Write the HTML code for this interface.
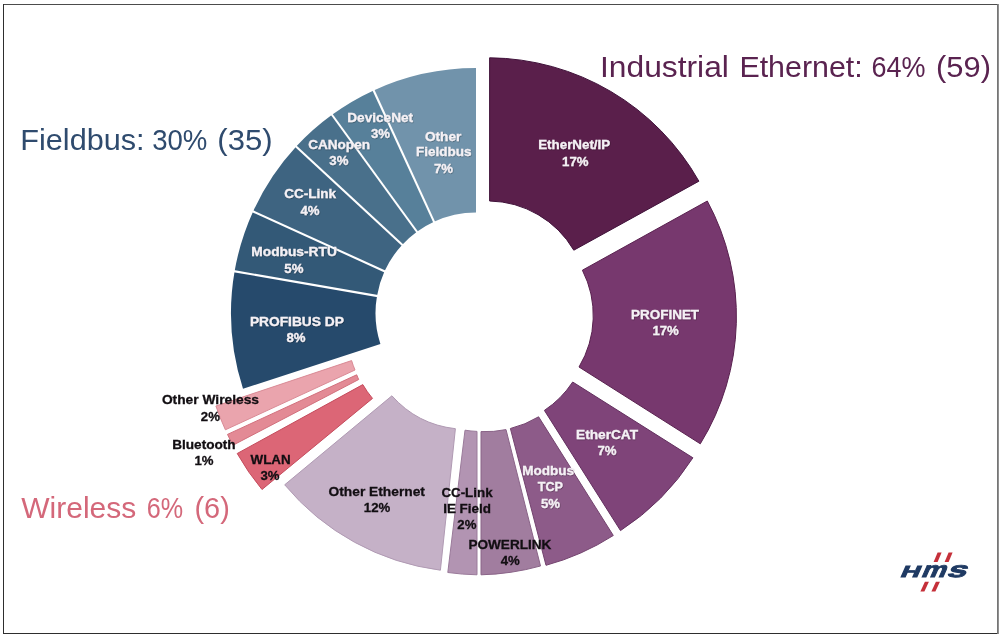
<!DOCTYPE html>
<html><head><meta charset="utf-8"><title>Industrial network market shares</title>
<style>
html,body{margin:0;padding:0;background:#fff;}
body{width:1001px;height:639px;overflow:hidden;}
svg{display:block;}
text{font-family:"Liberation Sans",sans-serif;}
.lw,.lk{font-size:13.2px;font-weight:bold;}
.lw{fill:#f5f1f5;stroke:#f5f1f5;stroke-width:0.3px;filter:url(#sh);}
.lk{fill:#120e12;stroke:#120e12;stroke-width:0.3px;}
.tt{font-size:29.7px;}
</style></head><body>
<svg width="1001" height="639" viewBox="0 0 1001 639">
<defs><filter id="sh" x="-10%" y="-30%" width="120%" height="160%"><feDropShadow dx="0.4" dy="0.6" stdDeviation="0.7" flood-color="#000" flood-opacity="0.45"/></filter></defs>
<rect x="0" y="0" width="1001" height="639" fill="#fff"/>
<rect x="3" y="4" width="995" height="1" fill="#4c4c4c"/>
<rect x="3" y="4" width="1" height="630" fill="#2e2e2e"/>
<rect x="3" y="633" width="995" height="1" fill="#2e2e2e"/>
<rect x="997" y="4" width="1.8" height="630" fill="#757575"/>
<path d="M489.6 57.8A243 243 0 0 1 698.9 181.2L573.8 250.2A100 100 0 0 0 489.6 201.0Z" fill="#5a1f4b" stroke="#40123a" stroke-width="1"/>
<path d="M707.3 201.0A243 243 0 0 1 700.3 443.8L579.0 367.0A100 100 0 0 0 582.4 270.2Z" fill="#77386e" stroke="#59214f" stroke-width="1"/>
<path d="M692.9 457.8A243 243 0 0 1 620.5 530.6L544.4 410.4A100 100 0 0 0 572.7 382.0Z" fill="#7f4479" stroke="#63305f" stroke-width="1"/>
<path d="M613.3 535.5A243 243 0 0 1 546.0 565.3L510.4 428.5A100 100 0 0 0 538.6 416.8Z" fill="#8d5b89" stroke="#74446f" stroke-width="1"/>
<path d="M540.5 566.0A243 243 0 0 1 481.0 574.8L481.0 431.6A100 100 0 0 0 506.0 429.6Z" fill="#a17d9f" stroke="#8a6488" stroke-width="1"/>
<path d="M477.0 574.8A243 243 0 0 1 447.8 572.5L465.0 430.2A100 100 0 0 0 477.0 431.4Z" fill="#b294b2" stroke="#9a7a9a" stroke-width="1"/>
<path d="M440.4 570.2A243 243 0 0 1 284.7 484.8L391.9 395.8A100 100 0 0 0 455.4 428.7Z" fill="#c5b1c7" stroke="#b09ab3" stroke-width="1"/>
<path d="M262.0 489.5A243 243 0 0 1 237.2 453.5L362.8 384.6A100 100 0 0 0 372.5 398.4Z" fill="#dc6676" stroke="#c54c5d" stroke-width="1"/>
<path d="M233.0 445.2A243 243 0 0 1 227.5 434.4L356.7 374.8A100 100 0 0 0 358.7 379.5Z" fill="#e38a95" stroke="#d2707d" stroke-width="1"/>
<path d="M225.4 429.8A243 243 0 0 1 215.9 406.0L351.6 360.6A100 100 0 0 0 355.0 370.0Z" fill="#eaa4ad" stroke="#d98a95" stroke-width="1"/>
<path d="M243.0 388.7A245 245 0 0 1 234.6 271.3L377.0 295.9A100.5 100.5 0 0 0 380.4 344.1Z" fill="#264a6c"/>
<path d="M234.6 271.3A245 245 0 0 1 253.1 211.4L384.5 271.3A100.5 100.5 0 0 0 377.0 295.9Z" fill="#335977"/>
<path d="M253.1 211.4A245 245 0 0 1 296.2 146.5L402.3 244.7A100.5 100.5 0 0 0 384.5 271.3Z" fill="#3e6481"/>
<path d="M296.2 146.5A245 245 0 0 1 332.0 114.8L416.9 231.7A100.5 100.5 0 0 0 402.3 244.7Z" fill="#49708b"/>
<path d="M332.0 114.8A245 245 0 0 1 373.6 90.4L434.0 221.7A100.5 100.5 0 0 0 416.9 231.7Z" fill="#57809a"/>
<path d="M373.6 90.4A245 245 0 0 1 476.0 68.0L476.0 212.5A100.5 100.5 0 0 0 434.0 221.7Z" fill="#7193ab"/>
<line x1="378.0" y1="296.1" x2="233.6" y2="271.1" stroke="#fff" stroke-width="2.1"/>
<line x1="385.5" y1="271.7" x2="252.1" y2="211.0" stroke="#fff" stroke-width="2.1"/>
<line x1="403.0" y1="245.4" x2="295.5" y2="145.9" stroke="#fff" stroke-width="2.1"/>
<line x1="417.5" y1="232.5" x2="331.4" y2="114.0" stroke="#fff" stroke-width="2.1"/>
<line x1="434.4" y1="222.6" x2="373.2" y2="89.5" stroke="#fff" stroke-width="2.1"/>
<text class="lw" x="538.2" y="149.2" textLength="72.0" lengthAdjust="spacingAndGlyphs">EtherNet/IP</text>
<text class="lw" x="575.3" y="165.6" text-anchor="middle">17%</text>
<text class="lw" x="631.0" y="318.6" textLength="68.1" lengthAdjust="spacingAndGlyphs">PROFINET</text>
<text class="lw" x="665.6" y="335.0" text-anchor="middle">17%</text>
<text class="lw" x="576.0" y="439.0" textLength="62.1" lengthAdjust="spacingAndGlyphs">EtherCAT</text>
<text class="lw" x="607.0" y="454.8" text-anchor="middle">7%</text>
<text class="lw" x="522.2" y="475.4" textLength="51.9" lengthAdjust="spacingAndGlyphs">Modbus</text>
<text class="lw" x="537.8" y="491.3" textLength="25.2" lengthAdjust="spacingAndGlyphs">TCP</text>
<text class="lw" x="550.5" y="507.5" text-anchor="middle">5%</text>
<text class="lk" x="468.4" y="549.0" textLength="83.0" lengthAdjust="spacingAndGlyphs">POWERLINK</text>
<text class="lk" x="510.2" y="564.9" text-anchor="middle">4%</text>
<text class="lk" x="441.4" y="497.2" textLength="51.2" lengthAdjust="spacingAndGlyphs">CC-Link</text>
<text class="lk" x="443.2" y="513.1" textLength="47.8" lengthAdjust="spacingAndGlyphs">IE Field</text>
<text class="lk" x="466.9" y="529.1" text-anchor="middle">2%</text>
<text class="lk" x="328.6" y="496.4" textLength="96.3" lengthAdjust="spacingAndGlyphs">Other Ethernet</text>
<text class="lk" x="377.0" y="512.3" text-anchor="middle">12%</text>
<text class="lk" x="250.6" y="464.0" textLength="40.1" lengthAdjust="spacingAndGlyphs">WLAN</text>
<text class="lk" x="270.0" y="480.2" text-anchor="middle">3%</text>
<text class="lk" x="172.2" y="449.2" textLength="63.5" lengthAdjust="spacingAndGlyphs">Bluetooth</text>
<text class="lk" x="204.0" y="465.3" text-anchor="middle">1%</text>
<text class="lk" x="161.9" y="404.1" textLength="97.1" lengthAdjust="spacingAndGlyphs">Other Wireless</text>
<text class="lk" x="210.4" y="420.5" text-anchor="middle">2%</text>
<text class="lw" x="249.9" y="325.5" textLength="94.0" lengthAdjust="spacingAndGlyphs">PROFIBUS DP</text>
<text class="lw" x="296.0" y="342.0" text-anchor="middle">8%</text>
<text class="lw" x="251.3" y="256.4" textLength="85.6" lengthAdjust="spacingAndGlyphs">Modbus-RTU</text>
<text class="lw" x="293.9" y="272.7" text-anchor="middle">5%</text>
<text class="lw" x="284.2" y="198.2" textLength="51.8" lengthAdjust="spacingAndGlyphs">CC-Link</text>
<text class="lw" x="310.0" y="214.7" text-anchor="middle">4%</text>
<text class="lw" x="308.2" y="148.5" textLength="61.8" lengthAdjust="spacingAndGlyphs">CANopen</text>
<text class="lw" x="338.9" y="164.5" text-anchor="middle">3%</text>
<text class="lw" x="347.3" y="122.0" textLength="65.8" lengthAdjust="spacingAndGlyphs">DeviceNet</text>
<text class="lw" x="380.5" y="138.0" text-anchor="middle">3%</text>
<text class="lw" x="424.9" y="140.5" textLength="36.4" lengthAdjust="spacingAndGlyphs">Other</text>
<text class="lw" x="416.1" y="156.0" textLength="55.4" lengthAdjust="spacingAndGlyphs">Fieldbus</text>
<text class="lw" x="443.5" y="172.5" text-anchor="middle">7%</text>
<text class="tt" x="600.0" y="77.4" textLength="128.9" lengthAdjust="spacingAndGlyphs" fill="#5a2350">Industrial</text>
<text class="tt" x="739.4" y="77.4" textLength="123.3" lengthAdjust="spacingAndGlyphs" fill="#5a2350">Ethernet:</text>
<text class="tt" x="871.5" y="77.4" textLength="54.0" lengthAdjust="spacingAndGlyphs" fill="#5a2350">64%</text>
<text class="tt" x="936.1" y="77.4" textLength="54.8" lengthAdjust="spacingAndGlyphs" fill="#5a2350">(59)</text>
<text class="tt" x="20.3" y="149.5" textLength="124.3" lengthAdjust="spacingAndGlyphs" fill="#2f4b6e">Fieldbus:</text>
<text class="tt" x="152.2" y="149.5" textLength="55.2" lengthAdjust="spacingAndGlyphs" fill="#2f4b6e">30%</text>
<text class="tt" x="217.3" y="149.5" textLength="55.2" lengthAdjust="spacingAndGlyphs" fill="#2f4b6e">(35)</text>
<text class="tt" x="21.2" y="517.9" textLength="115.2" lengthAdjust="spacingAndGlyphs" fill="#d4687a">Wireless</text>
<text class="tt" x="146.7" y="517.9" textLength="36.4" lengthAdjust="spacingAndGlyphs" fill="#d4687a">6%</text>
<text class="tt" x="194.5" y="517.9" textLength="35.3" lengthAdjust="spacingAndGlyphs" fill="#d4687a">(6)</text>
<g><polygon points="937.6,552.6 941.6,552.6 937.6,562 933.6,562" fill="#c5303a"/><polygon points="948.6,552.6 952.6,552.6 948.6,562 944.6,562" fill="#c5303a"/><polygon points="924.9,581.8 928.9,581.8 924.4,591.6 920.4,591.6" fill="#c5303a"/><polygon points="935.9,581.8 939.9,581.8 935.4,591.6 931.4,591.6" fill="#c5303a"/><text transform="translate(899.6,576.8) skewX(-24) scale(1.645,1)" font-size="16" font-weight="bold" fill="#1f3a63" stroke="#1f3a63" stroke-width="0.9">H</text><text transform="translate(920.3,576.8) skewX(-24) scale(1.248,1)" font-size="22" font-weight="bold" fill="#1f3a63" stroke="#1f3a63" stroke-width="0.9">m</text><text transform="translate(946,576.8) skewX(-24) scale(1.586,1)" font-size="22" font-weight="bold" fill="#1f3a63" stroke="#1f3a63" stroke-width="0.9">s</text></g>
</svg>
</body></html>
